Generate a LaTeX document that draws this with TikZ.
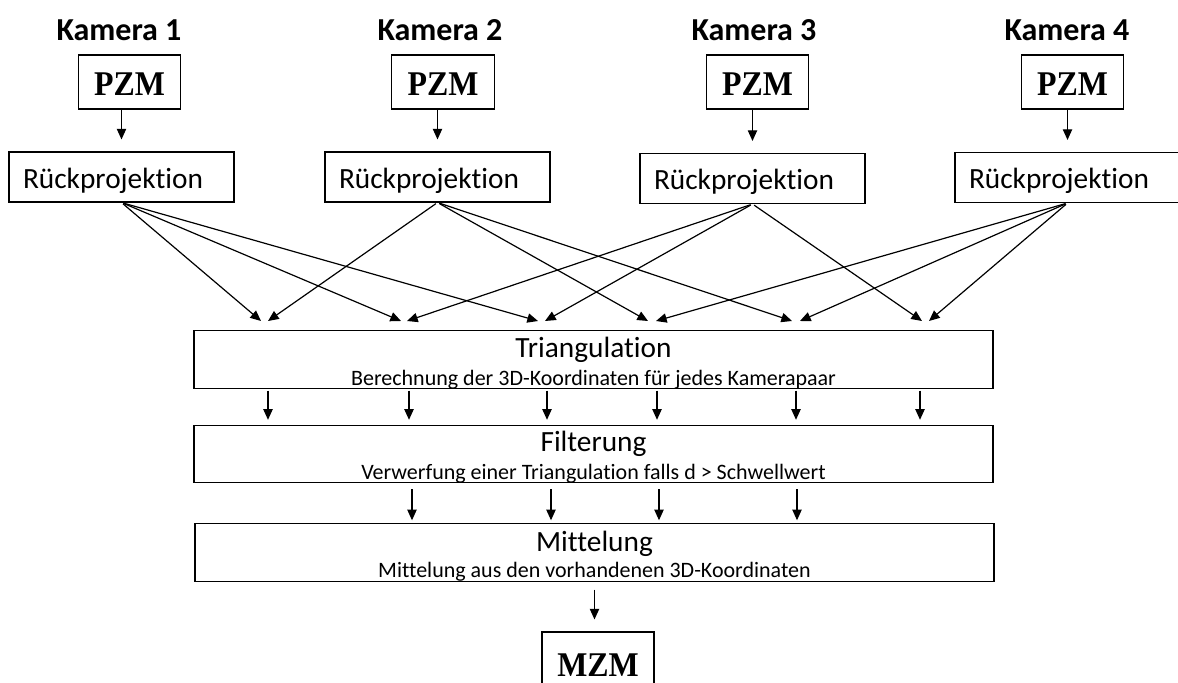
\documentclass[tikz,border=0pt]{standalone}
\usepackage{fontspec}
\setmainfont{Carlito}[Ligatures={NoCommon}]
\newfontfamily\timesfont{Liberation Serif}[FakeStretch=0.92]
\usetikzlibrary{arrows.meta,calc}

\tikzset{
    % Camera title
    camlabel/.style={
        anchor=base,
        font=\bfseries\fontsize{24}{28}\selectfont
    },
    % PZM / MZM box
    zmbox/.style={
        draw,
        line width=0.8pt,
        minimum width=77pt,
        minimum height=40.5pt,
        inner sep=0pt,
        text height=20pt,
        text depth=0pt,
        font=\timesfont\bfseries\fontsize{26}{30}\selectfont
    },
    % Rueckprojektion box
    rpbox/.style={
        draw,
        line width=0.8pt,
        text width=147.75pt,
        inner xsep=10.5pt,
        inner ysep=0pt,
        text height=16.5pt,
        text depth=0pt,
        minimum height=37.5pt,
        align=left,
        font=\fontsize{22}{26}\selectfont
    },
    % Processing stage box
    stagebox/.style={
        draw,
        line width=0.8pt,
        minimum width=599.25pt,
        minimum height=43pt
    },
    % Stage title
    mainlabel/.style={
        anchor=base,
        font=\fontsize{22}{26}\selectfont
    },
    % Stage description
    sublabel/.style={
        anchor=base,
        font=\fontsize{16.5}{20}\selectfont
    },
    % MZM text
    zmlabel/.style={
        anchor=base,
        inner sep=0pt,
        font=\timesfont\bfseries\fontsize{26}{30}\selectfont
    },
    % Arrow style
    myarrow/.style={
        -{Triangle[length=8pt,width=7pt]},
        line width=0.9pt
    }
}

\begin{document}
\begin{tikzpicture}[x=0.75pt,y=-0.75pt]
    \clip (0,0) rectangle (1178,682);

    % Cameras
    \node[camlabel] (cam1) at (119,40) {Kamera 1};
    \node[camlabel] (cam2) at (440,40) {Kamera 2};
    \node[camlabel] (cam3) at (754,40) {Kamera 3};
    \node[camlabel] (cam4) at (1067,40) {Kamera 4};

    \node[zmbox] (pzm1) at (129.5,82) {PZM};
    \node[zmbox] (pzm2) at (443,82) {PZM};
    \node[zmbox] (pzm3) at (757.5,82) {PZM};
    \node[zmbox] (pzm4) at (1072.5,82) {PZM};

    % Back projection
    \node[rpbox] (rp1) at (121.5,177) {Rückprojektion};
    \node[rpbox] (rp2) at (437.5,177) {Rückprojektion};
    \node[rpbox] (rp3) at (752.5,178.5) {Rückprojektion};
    \node[rpbox] (rp4) at (1067.5,177.5) {Rückprojektion};

    \draw[myarrow,shorten >=9pt] (pzm1.south -| rp1.north) -- (rp1.north);
    \draw[myarrow,shorten >=9pt] (pzm2.south -| rp2.north) -- (rp2.north);
    \draw[myarrow,shorten >=9pt] (pzm3.south -| rp3.north) -- (rp3.north);
    \draw[myarrow,shorten >=9pt] (pzm4.south -| rp4.north) -- (rp4.north);

    % Stages
    \node[stagebox] (tri) at (593.5,359.5) {};
    \node[mainlabel] (tri-t) at (593.5,357) {Triangulation};
    \node[sublabel] (tri-s) at (593.5,385) {Berechnung der 3D-Koordinaten für jedes Kamerapaar};

    \node[stagebox] (filt) at (593.5,454) {};
    \node[mainlabel] (filt-t) at (593.5,451) {Filterung};
    \node[sublabel] (filt-s) at (593.5,479) {Verwerfung einer Triangulation falls d > Schwellwert};

    \node[stagebox] (mitt) at (594.5,552.5) {};
    \node[mainlabel] (mitt-t) at (594.5,551) {Mittelung};
    \node[sublabel] (mitt-s) at (594.5,577) {Mittelung aus den vorhandenen 3D-Koordinaten};

    % Result (box runs past the lower edge)
    \node[draw,line width=0.8pt,minimum width=84pt,minimum height=48pt] (mzm) at (598,664) {};
    \node[zmlabel] (mzm-t) at (598,676) {MZM};

    % Arrow ends above triangulation
    \coordinate (p1a) at (261,321);
    \coordinate (p1b) at (268,321);
    \coordinate (p2a) at (401,321);
    \coordinate (p2b) at (407,321);
    \coordinate (p3a) at (538,321);
    \coordinate (p3b) at (545,321);
    \coordinate (p4a) at (648,321);
    \coordinate (p4b) at (656,321);
    \coordinate (p5a) at (792,321);
    \coordinate (p5b) at (800,321);
    \coordinate (p6a) at (922,321);
    \coordinate (p6b) at (929,321);

    \draw[myarrow,shorten <=1.5pt] (rp1.south) -- (p1a);
    \draw[myarrow,shorten <=1.5pt] (rp1.south) -- (p2a);
    \draw[myarrow,shorten <=1.5pt] (rp1.south) -- (p3a);
    \draw[myarrow,shorten <=1.5pt] (rp2.south) -- (p1b);
    \draw[myarrow,shorten <=1.5pt] (rp2.south) -- (p4a);
    \draw[myarrow,shorten <=1.5pt] (rp2.south) -- (p5a);
    \draw[myarrow,shorten <=1.5pt] (rp3.south) -- (p2b);
    \draw[myarrow,shorten <=1.5pt] (rp3.south) -- (p3b);
    \draw[myarrow,shorten <=1.5pt] (rp3.south) -- (p6a);
    \draw[myarrow,shorten <=1.5pt] (rp4.south) -- (p4b);
    \draw[myarrow,shorten <=1.5pt] (rp4.south) -- (p5b);
    \draw[myarrow,shorten <=1.5pt] (rp4.south) -- (p6b);

    % Stage arrows
    \foreach \x in {268,409,547,657,796,920}
        \draw[myarrow,shorten <=1.5pt,shorten >=3.75pt] (\x,0 |- tri.south) -- (\x,0 |- filt.north);
    \foreach \x in {412,551,659,797}
        \draw[myarrow,shorten <=4.5pt,shorten >=2.25pt] (\x,0 |- filt.south) -- (\x,0 |- mitt.north);
    \draw[myarrow,shorten <=6pt,shorten >=9pt] (mitt.south) -- (mitt.south |- mzm.north);
\end{tikzpicture}
\end{document}
